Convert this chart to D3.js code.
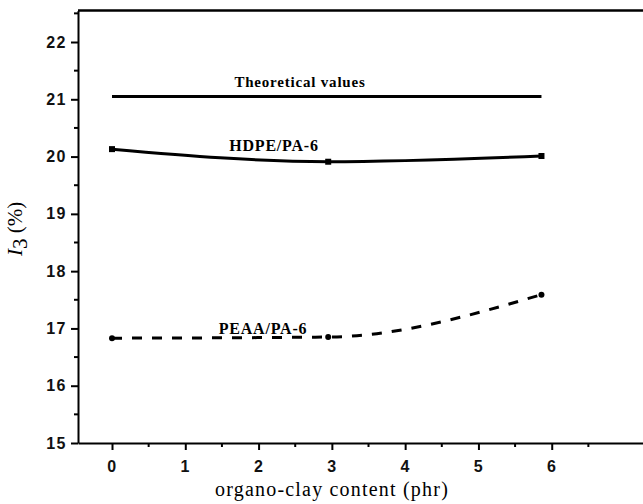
<!DOCTYPE html>
<meta charset="utf-8">
<style>
body { margin: 0; background: #fff; }
.axis path, .axis line { stroke: #000; stroke-width: 2px; }
.tick text { font-family: "Liberation Sans", Arial, sans-serif; font-weight: bold; font-size: 16px; letter-spacing: 1.5px; fill: #111; }
.curve { fill: none; stroke: #000; stroke-width: 3px; }
.lbl { font-family: "Liberation Serif", serif; font-weight: bold; font-size: 15px; letter-spacing: 0.8px; fill: #000; }
</style>
<body>
<svg id="chart" width="643" height="504"></svg>
<script src="https://d3js.org/d3.v7.min.js"></script>
<script>

// values
var content = [0, 2.95, 5.86];
var theoretical = [21.05, 21.05, 21.05];
var hdpe = [20.13, 19.91, 20.01];
var peaa = [16.83, 16.85, 17.59];
var xTicks = [0, 1, 2, 3, 4, 5, 6];
var yTicks = [15, 16, 17, 18, 19, 20, 21, 22];

var svg = d3.select("#chart");

var x = d3.scaleLinear().domain([-0.464, 7.3]).range([78, 647]);
var y = d3.scaleLinear().domain([15, 22.55]).range([443, 10.5]);

// minor ticks first
var minorX = d3.range(-0.5, 7.01, 0.5).filter(function(v) { return v % 1 !== 0 && v > -0.46; });
var minorY = d3.range(15.5, 22.51, 0.5).filter(function(v) { return v % 1 !== 0; });

svg.append("g").selectAll("line").data(minorX).enter().append("line")
  .attr("x1", function(d) { return x(d); }).attr("x2", function(d) { return x(d); })
  .attr("y1", y(15)).attr("y2", y(15) + 4)
  .attr("stroke", "#000").attr("stroke-width", 2);

svg.append("g").selectAll("line").data(minorY).enter().append("line")
  .attr("y1", function(d) { return y(d); }).attr("y2", function(d) { return y(d); })
  .attr("x1", x(-0.464)).attr("x2", x(-0.464) - 4)
  .attr("stroke", "#000").attr("stroke-width", 2);

var xAxis = svg.append("g")
  .attr("class", "axis")
  .attr("transform", "translate(0," + y(15) + ")")
  .call(d3.axisBottom(x).tickValues(xTicks).tickFormat(d3.format("d")).tickSize(7).tickSizeOuter(0));
xAxis.selectAll(".tick text").attr("dy", "1.2em");

var yAxis = svg.append("g")
  .attr("class", "axis")
  .attr("transform", "translate(" + x(-0.464) + ",0)")
  .call(d3.axisLeft(y).tickValues(yTicks).tickFormat(d3.format("d")).tickSize(7).tickSizeOuter(0));
yAxis.selectAll(".tick text").attr("x", -11);

// top frame line
svg.append("line")
  .attr("x1", x(-0.464)).attr("x2", 643)
  .attr("y1", y(22.55)).attr("y2", y(22.55))
  .attr("stroke", "#000").attr("stroke-width", 2.5);

var line = function(vals) {
  return d3.line()
    .x(function(d, i) { return x(content[i]); })
    .y(function(d) { return y(d); })
    .curve(d3.curveMonotoneX)(vals);
};

svg.append("path").attr("class", "curve").attr("d", line(theoretical));
svg.append("path").attr("class", "curve").attr("d", line(hdpe));
svg.append("path").attr("class", "curve").attr("d", line(peaa))
  .attr("stroke-dasharray", "10,10");

// markers
svg.append("g").selectAll("rect").data(hdpe).enter().append("rect")
  .attr("x", function(d, i) { return x(content[i]) - 3; })
  .attr("y", function(d) { return y(d) - 3; })
  .attr("width", 6).attr("height", 6).attr("fill", "#000");

svg.append("g").selectAll("circle").data(peaa).enter().append("circle")
  .attr("cx", function(d, i) { return x(content[i]); })
  .attr("cy", function(d) { return y(d); })
  .attr("r", 3).attr("fill", "#000");

// series labels
svg.append("text").attr("class", "lbl").attr("x", 300).attr("y", 87)
  .attr("text-anchor", "middle").text("Theoretical values");
svg.append("text").attr("class", "lbl").attr("x", 274).attr("y", 151)
  .attr("text-anchor", "middle").style("font-size", "16px").text("HDPE/PA-6");
svg.append("text").attr("class", "lbl").attr("x", 263).attr("y", 334)
  .attr("text-anchor", "middle").style("font-size", "16px").text("PEAA/PA-6");

// axis titles
svg.append("text")
  .attr("x", 332).attr("y", 496)
  .attr("text-anchor", "middle")
  .style("font-family", "Liberation Serif, serif")
  .style("font-size", "20px")
  .style("letter-spacing", "1.2px")
  .text("organo-clay content (phr)");

var yt = svg.append("text")
  .attr("transform", "translate(22,229) rotate(-90)")
  .attr("text-anchor", "middle")
  .style("font-family", "Liberation Serif, serif")
  .style("font-size", "21px");
yt.append("tspan").style("font-style", "italic").text("I");
yt.append("tspan").attr("dy", 5).text("3");
yt.append("tspan").attr("dy", -5).text(" (%)");

</script>
</body>
</html>
